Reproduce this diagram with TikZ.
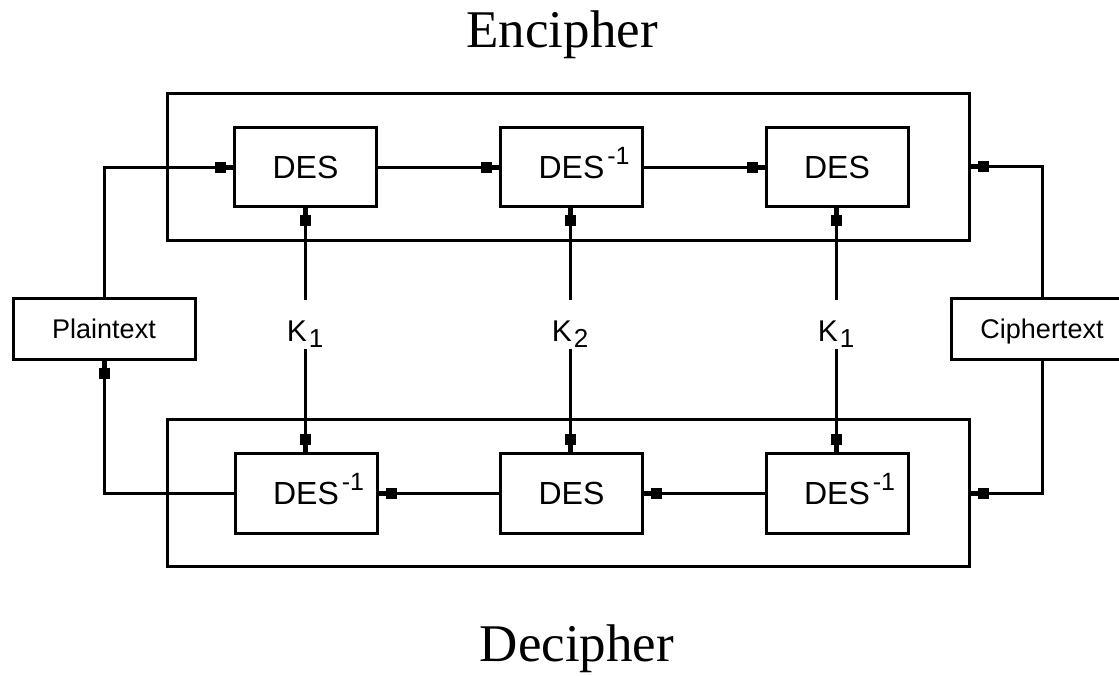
\documentclass[tikz,border=0pt]{standalone}
\usepackage{fontspec}
\setmainfont{Liberation Serif}
\setsansfont{Liberation Sans}
\usetikzlibrary{arrows.meta}
\tikzset{
  sqtip/.tip={Square[length=11pt,width=11pt]Rectangle[length=7pt,width=5pt]},
  desbox/.style={draw, line width=3pt, minimum width=142pt, minimum height=79pt, inner sep=0pt,
    font=\sffamily\fontsize{32}{32}\selectfont, text height=23pt, text depth=0pt},
  stagebox/.style={draw, line width=3pt, minimum width=802pt, minimum height=147pt},
  iobox/.style={draw, line width=3pt, minimum width=182pt, minimum height=61pt, inner sep=0pt,
    font=\sffamily\fontsize{27}{27}\selectfont, text height=20pt, text depth=0pt},
  keylabel/.style={font=\sffamily\fontsize{30}{30}\selectfont, text height=39pt, text depth=6pt,
    inner ysep=2pt, inner xsep=0pt, anchor=base},
  headline/.style={font=\fontsize{53}{53}\selectfont, anchor=base},
  link/.style={line width=3pt, -sqtip},
}
\newcommand{\desinv}{DES\rlap{\hspace{3pt}\raisebox{14pt}{\fontsize{25}{25}\selectfont -1}}}
\newcommand{\keysub}[1]{K\hspace{2pt}\raisebox{-6pt}{\fontsize{26}{26}\selectfont #1}}

\begin{document}
\begin{tikzpicture}[x=1pt,y=-1pt]
			%%%%% START %%%%%
			\useasboundingbox (0,0) rectangle (1119,675);
			\clip (0,0) rectangle (1119,675);
			
			\node[headline] (enc) at (562, 47) {Encipher};
			\node[headline] (dec) at (577, 661) {Decipher};
			
			\node[stagebox] (encframe) at (568, 166.5) {};
			\node[stagebox] (decframe) at (568, 493) {};
			
			\node[desbox] (des1) at (305.5, 167) {DES};
			\node[desbox] (des2) at (571.5, 167) {\desinv};
			\node[desbox] (des3) at (837, 167) {DES};
			
			\node[desbox, minimum height=80pt] (inv1) at (306, 493) {\desinv};
			\node[desbox, minimum height=80pt] (desb) at (571.5, 493) {DES};
			\node[desbox, minimum height=80pt] (inv3) at (837, 493) {\desinv};
			
			\node[iobox] (plain) at (104, 328.5) {Plaintext};
			\node[iobox] (cipher) at (1042, 328.5) {Ciphertext};
			
			\node[keylabel] (k1) at (305, 341) {\keysub{1}};
			\node[keylabel] (k2) at (570, 341) {\keysub{2}};
			\node[keylabel] (k3) at (836, 341) {\keysub{1}};
			
			% encipher chain
			\draw[link] (plain.north) |- (des1.west);
			\draw[link] (des1.east) -- (des2.west);
			\draw[link] (des2.east) -- (des3.west);
			\draw[link] (cipher.north) |- (encframe.east);
			
			% decipher chain
			\draw[link] (cipher.south) |- (decframe.east);
			\draw[link] (inv3.west) -- (desb.east);
			\draw[link] (desb.west) -- (inv1.east);
			\draw[link] (inv1.west) -| (plain.south);
			
			% keys
			\draw[link] (k1.north) -- (k1.north |- des1.south);
			\draw[link] (k1.south) -- (k1.south |- inv1.north);
			\draw[link] (k2.north) -- (k2.north |- des2.south);
			\draw[link] (k2.south) -- (k2.south |- desb.north);
			\draw[link] (k3.north) -- (k3.north |- des3.south);
			\draw[link] (k3.south) -- (k3.south |- inv3.north);
			
			%%%%% END %%%%%
\end{tikzpicture}
\end{document}
